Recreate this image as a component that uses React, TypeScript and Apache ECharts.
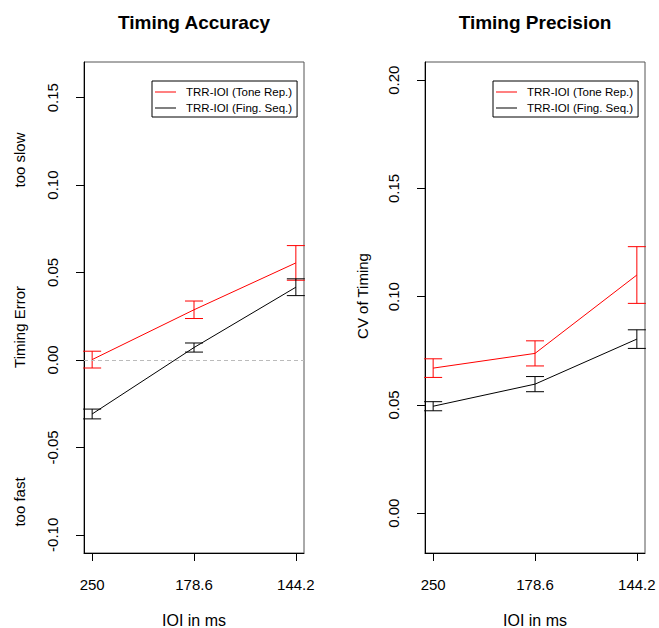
import React, { useEffect, useRef } from "react";
import * as echarts from "echarts";

const xLabels = ["250", "178.6", "144.2"];
const xPos = [1, 2, 3];
const seriesNames = ["TRR-IOI (Tone Rep.)", "TRR-IOI (Fing. Seq.)"];

const accRedMean = [0.0002, 0.0287, 0.0555];
const accRedErr = [0.0048, 0.005, 0.0099];
const accBlackMean = [-0.0309, 0.0071, 0.0416];
const accBlackErr = [0.0028, 0.0026, 0.0048];

const precRedMean = [0.067, 0.0738, 0.110];
const precRedErr = [0.0043, 0.0058, 0.0131];
const precBlackMean = [0.0494, 0.0596, 0.0804];
const precBlackErr = [0.0021, 0.0035, 0.0043];

const accTicks = [-0.1, -0.05, 0, 0.05, 0.1, 0.15];
const precTicks = [0, 0.05, 0.1, 0.15, 0.2];

const FONT = "'Liberation Sans', Arial, Helvetica, sans-serif";
const RED = "#ff0000";
const BLACK = "#000000";

function lineData(means: number[]) {
  return means.map((m, i) => [xPos[i], m]);
}
function errData(means: number[], errs: number[]) {
  return means.map((m, i) => [xPos[i], m - errs[i], m + errs[i]]);
}

function errSeries(means: number[], errs: number[], color: string, idx: number) {
  return {
    type: "custom",
    xAxisIndex: idx,
    yAxisIndex: idx,
    silent: true,
    encode: { x: 0, y: [1, 2] },
    data: errData(means, errs),
    renderItem: (params: any, api: any) => {
      const x = api.value(0);
      const lo = api.coord([x, api.value(1)]);
      const hi = api.coord([x, api.value(2)]);
      const w = 9;
      const style = { stroke: color, lineWidth: 1, fill: "none" };
      return {
        type: "group",
        children: [
          { type: "line", shape: { x1: lo[0], y1: lo[1], x2: hi[0], y2: hi[1] }, style },
          { type: "line", shape: { x1: lo[0] - w, y1: lo[1], x2: lo[0] + w, y2: lo[1] }, style },
          { type: "line", shape: { x1: hi[0] - w, y1: hi[1], x2: hi[0] + w, y2: hi[1] }, style },
        ],
      };
    },
  };
}

function lineSeries(name: string, means: number[], color: string, idx: number, extra: any = {}) {
  return {
    type: "line",
    name,
    xAxisIndex: idx,
    yAxisIndex: idx,
    data: lineData(means),
    symbol: "none",
    showSymbol: false,
    itemStyle: { color },
    lineStyle: { color, width: 1 },
    silent: true,
    ...extra,
  };
}

function xAxis(idx: number) {
  return {
    type: "value",
    gridIndex: idx,
    min: 0.92,
    max: 3.08,
    name: "IOI in ms",
    nameLocation: "middle",
    nameGap: 59,
    nameTextStyle: { fontFamily: FONT, fontSize: 16, color: "#000" },
    axisLine: { show: true, onZero: false, lineStyle: { color: "#000", width: 1 } },
    axisTick: { show: true, customValues: xPos, length: 8, lineStyle: { color: "#000" } },
    axisLabel: {
      customValues: xPos,
      margin: 24,
      fontFamily: FONT,
      fontSize: 15,
      color: "#000",
      formatter: (v: number) => xLabels[Math.round(v) - 1] ?? "",
    },
    splitLine: { show: false },
  };
}

function yAxis(idx: number, min: number, max: number, ticks: number[]) {
  return {
    type: "value",
    gridIndex: idx,
    min,
    max,
    axisLine: { show: true, onZero: false, lineStyle: { color: "#000", width: 1 } },
    axisTick: { show: true, customValues: ticks, length: 8, lineStyle: { color: "#000" } },
    axisLabel: {
      customValues: ticks,
      rotate: 90,
      margin: 24,
      fontFamily: FONT,
      fontSize: 15,
      color: "#000",
      formatter: (v: number) => v.toFixed(2),
    },
    splitLine: { show: false },
  };
}

function legend(left: number) {
  return {
    left,
    top: 81,
    orient: "vertical",
    data: seriesNames,
    selectedMode: false,
    icon: "rect",
    itemWidth: 21,
    itemHeight: 1,
    itemGap: 4,
    padding: [5, 5, 3, 3],
    borderColor: "#000",
    borderWidth: 1,
    backgroundColor: "#fff",
    itemStyle: { borderWidth: 0 },
    textStyle: { fontFamily: FONT, fontSize: 11.5, color: "#000", padding: [0, 0, 0, 5] },
  };
}

function vText(text: string, x: number, y: number) {
  return {
    type: "text",
    x,
    y,
    rotation: Math.PI / 2,
    style: { text, fontFamily: FONT, fontSize: 15, fill: "#000", textAlign: "center", textVerticalAlign: "middle" },
  };
}

const gridBase = {
  top: 62,
  width: 220,
  height: 491,
  show: true,
  borderColor: "#555",
  borderWidth: 1,
  backgroundColor: "transparent",
  containLabel: false,
  outerBoundsMode: "none",
};

export default function App() {
  const ref = useRef<HTMLDivElement>(null);
  useEffect(() => {
    document.body.style.margin = "0";
    const chart = echarts.init(ref.current!, null, { renderer: "svg" });
    const option: any = {
      animation: false,
      backgroundColor: "#fff",
      title: [
        {
          text: "Timing Accuracy",
          left: 189,
          top: 8,
          textAlign: "center",
          textStyle: { fontFamily: FONT, fontSize: 19, fontWeight: "bold", color: "#000" },
        },
        {
          text: "Timing Precision",
          left: 530,
          top: 8,
          textAlign: "center",
          textStyle: { fontFamily: FONT, fontSize: 19, fontWeight: "bold", color: "#000" },
        },
      ],
      legend: [legend(152), legend(493)],
      grid: [
        { ...gridBase, left: 84 },
        { ...gridBase, left: 425 },
      ],
      xAxis: [xAxis(0), xAxis(1)],
      yAxis: [
        yAxis(0, -0.1104, 0.1704, accTicks),
        yAxis(1, -0.0184, 0.2084, precTicks),
      ],
      graphic: [
        vText("too slow", 19, 160),
        vText("Timing Error", 19, 327),
        vText("too fast", 19, 502),
        vText("CV of Timing", 362, 296),
      ],
      series: [
        lineSeries(seriesNames[0], accRedMean, RED, 0, {
          markLine: {
            silent: true,
            symbol: "none",
            label: { show: false },
            lineStyle: { color: "#bbbbbb", type: [4, 3], width: 1 },
            data: [{ yAxis: 0 }],
          },
        }),
        lineSeries(seriesNames[1], accBlackMean, BLACK, 0),
        errSeries(accRedMean, accRedErr, RED, 0),
        errSeries(accBlackMean, accBlackErr, BLACK, 0),
        lineSeries(seriesNames[0], precRedMean, RED, 1),
        lineSeries(seriesNames[1], precBlackMean, BLACK, 1),
        errSeries(precRedMean, precRedErr, RED, 1),
        errSeries(precBlackMean, precBlackErr, BLACK, 1),
      ],
    };
    chart.setOption(option);
    return () => chart.dispose();
  }, []);
  return <div ref={ref} style={{ width: 659, height: 628 }} />;
}
